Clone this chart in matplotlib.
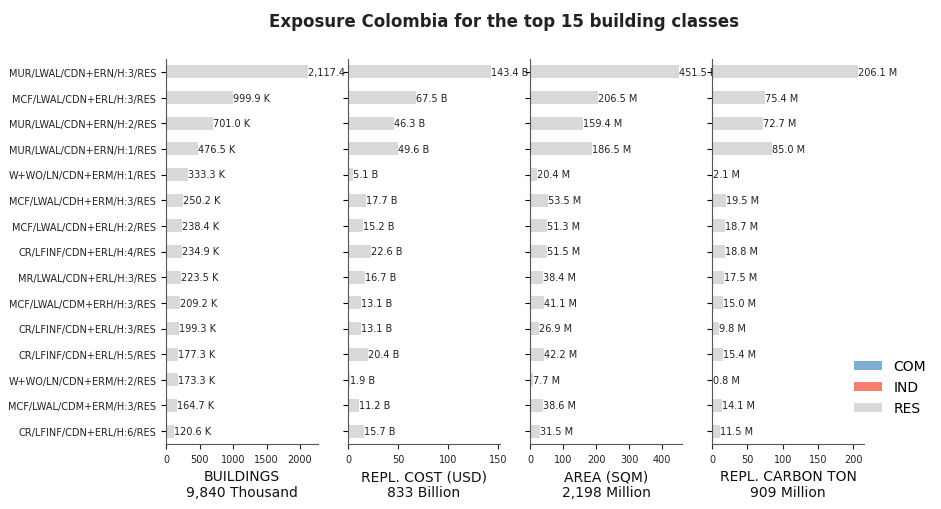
import matplotlib
matplotlib.use("Agg")
import matplotlib.pyplot as plt
import numpy as np

classes = ["MUR/LWAL/CDN+ERN/H:3/RES","MCF/LWAL/CDN+ERL/H:3/RES","MUR/LWAL/CDN+ERN/H:2/RES",
"MUR/LWAL/CDN+ERN/H:1/RES","W+WO/LN/CDN+ERM/H:1/RES","MCF/LWAL/CDH+ERM/H:3/RES",
"MCF/LWAL/CDN+ERL/H:2/RES","CR/LFINF/CDN+ERL/H:4/RES","MR/LWAL/CDN+ERL/H:3/RES",
"MCF/LWAL/CDM+ERH/H:3/RES","CR/LFINF/CDN+ERL/H:3/RES","CR/LFINF/CDN+ERL/H:5/RES",
"W+WO/LN/CDN+ERM/H:2/RES","MCF/LWAL/CDM+ERM/H:3/RES","CR/LFINF/CDN+ERL/H:6/RES"]
buildings = [2117.4,999.9,701.0,476.5,333.3,250.2,238.4,234.9,223.5,209.2,199.3,177.3,173.3,164.7,120.6]
cost = [143.4,67.5,46.3,49.6,5.1,17.7,15.2,22.6,16.7,13.1,13.1,20.4,1.9,11.2,15.7]
area = [451.5,206.5,159.4,186.5,20.4,53.5,51.3,51.5,38.4,41.1,26.9,42.2,7.7,38.6,31.5]
carbon = [206.1,75.4,72.7,85.0,2.1,19.5,18.7,18.8,17.5,15.0,9.8,15.4,0.8,14.1,11.5]
units = ["K","B","M","M"]
titles = ["BUILDINGS\n9,840 Thousand","REPL. COST (USD)\n833 Billion","AREA (SQM)\n2,198 Million","REPL. CARBON TON\n909 Million"]
xlims = [2268,152,460,215]
ticks = [[0,500,1000,1500,2000],[0,50,100,150],[0,100,200,300,400],[0,50,100,150,200]]
occup = ["COM","IND","RES"]
colors = {"COM":"#7fafd3","IND":"#f47f6f","RES":"#d9d9d9"}

fig = plt.figure(figsize=(9.41,5.1), dpi=100)
fig.suptitle("Exposure Colombia for the top 15 building classes", fontsize=12, fontweight="bold",
             x=0.536, y=0.975, color="#222222")
lefts = [166,348,530,712]
y = np.arange(len(classes))
for i,(vals,u) in enumerate(zip([buildings,cost,area,carbon],units)):
    ax = fig.add_axes([lefts[i]/941, 1-445/510, 152/941, 385/510])
    left = np.zeros(len(vals))
    for o in occup:
        v = np.array(vals) if o=="RES" else np.zeros(len(vals))
        ax.barh(y, v, left=left, height=0.5, color=colors[o], label=o)
        left += v
    for yy,v in zip(y,vals):
        ax.text(v, yy, f"{v:,.1f} {u}", va="center", ha="left", fontsize=7, color="#222222")
    ax.set_ylim(len(classes)-0.5, -0.5)
    ax.set_xlim(0, xlims[i])
    ax.set_xticks(ticks[i])
    ax.tick_params(axis="x", labelsize=7, colors="#222222")
    ax.set_yticks(y)
    ax.set_yticklabels(classes if i==0 else [""]*len(y), fontsize=7, color="#222222")
    ax.set_xlabel(titles[i], fontsize=10, color="#111111")
    for s in ["top","right"]:
        ax.spines[s].set_visible(False)
    for s in ["left","bottom"]:
        ax.spines[s].set_color("#555555")
    if i==3:
        ax.legend(loc="lower left", bbox_to_anchor=(0.9,0.06), frameon=False, fontsize=10,
                  borderaxespad=0, handlelength=2.0)
fig.savefig("out.png", dpi=100)
